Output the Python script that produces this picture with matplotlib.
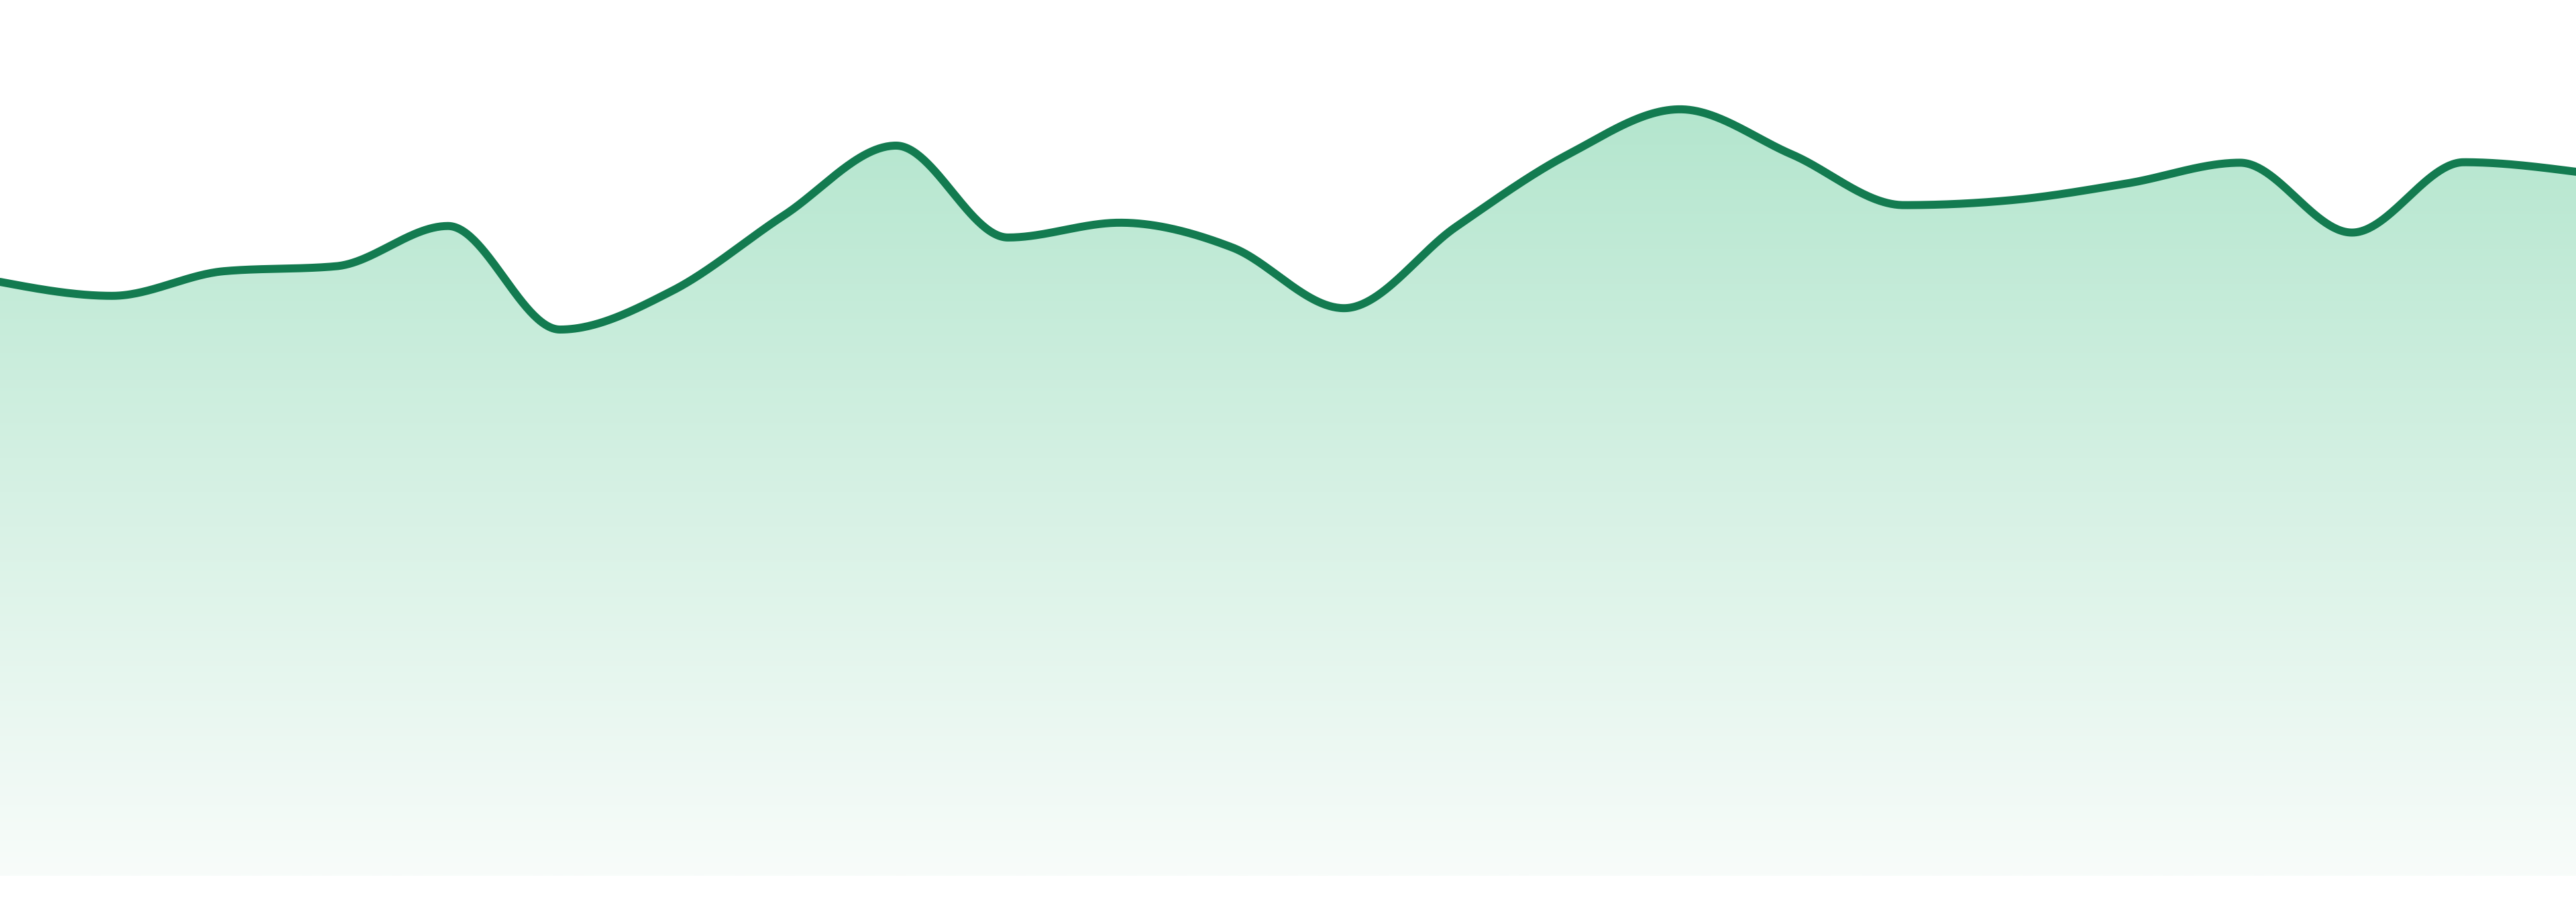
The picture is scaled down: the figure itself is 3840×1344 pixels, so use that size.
import numpy as np
import matplotlib.pyplot as plt
from matplotlib.patches import Polygon
from matplotlib.colors import to_rgb

# series values (one point per step, left edge to right edge)
values = [361.5, 353, 368, 371, 395.5, 332.5, 356, 402, 444.4, 388.5, 397.5, 382.5,
          345.5, 395, 439, 466.5, 439, 408.2, 411.5, 421.5, 434, 391.5, 434.3, 428.5]
steps = list(range(len(values)))

line_color = "#137b50"
fill_top = "#b4e6ce"
fill_bottom = "#f8fcfa"


def monotone_x(xs, ys, n=60):
    # cubic hermite with monotone slopes, same idea as d3.curveMonotoneX
    xs = np.asarray(xs, float)
    ys = np.asarray(ys, float)
    h = np.diff(xs)
    s = np.diff(ys) / h
    m = np.zeros_like(ys)
    for i in range(1, len(ys) - 1):
        p = (s[i - 1] * h[i] + s[i] * h[i - 1]) / (h[i - 1] + h[i])
        m[i] = (np.sign(s[i - 1]) + np.sign(s[i])) * min(abs(s[i - 1]), abs(s[i]), 0.5 * abs(p))
    m[0] = (3 * s[0] - m[1]) / 2
    m[-1] = (3 * s[-1] - m[-2]) / 2
    out_x, out_y = [], []
    for i in range(len(xs) - 1):
        t = np.linspace(0, 1, n, endpoint=(i == len(xs) - 2))
        h00 = 2 * t**3 - 3 * t**2 + 1
        h10 = t**3 - 2 * t**2 + t
        h01 = -2 * t**3 + 3 * t**2
        h11 = t**3 - t**2
        out_x.append(xs[i] + t * h[i])
        out_y.append(h00 * ys[i] + h10 * h[i] * m[i] + h01 * ys[i + 1] + h11 * h[i] * m[i + 1])
    return np.concatenate(out_x), np.concatenate(out_y)


sx, sy = monotone_x(steps, values)

fig = plt.figure(figsize=(38.4, 13.44), dpi=100)
ax = fig.add_axes([0, 0, 1, 1])
ax.set_xlim(steps[0], steps[-1])
ax.set_ylim(-15.8, 533)
ax.axis("off")

# gradient fill under the curve
top = max(values)
c1 = np.array(to_rgb(fill_top))
c0 = np.array(to_rgb(fill_bottom))
k = np.linspace(1, 0, 256)[:, None]
grad = (c0 + (c1 - c0) * k)[:, None, :]
verts = np.column_stack([np.r_[sx, sx[-1], sx[0]], np.r_[sy, 0, 0]])
poly = Polygon(verts, closed=True, facecolor="none", edgecolor="none")
ax.add_patch(poly)
im = ax.imshow(grad, extent=[steps[0], steps[-1], 0, top], aspect="auto",
               interpolation="bilinear", zorder=1)
im.set_clip_path(poly)

ax.plot(sx, sy, color=line_color, linewidth=8.6, solid_capstyle="round", zorder=3)

fig.savefig("out.png", dpi=100)
